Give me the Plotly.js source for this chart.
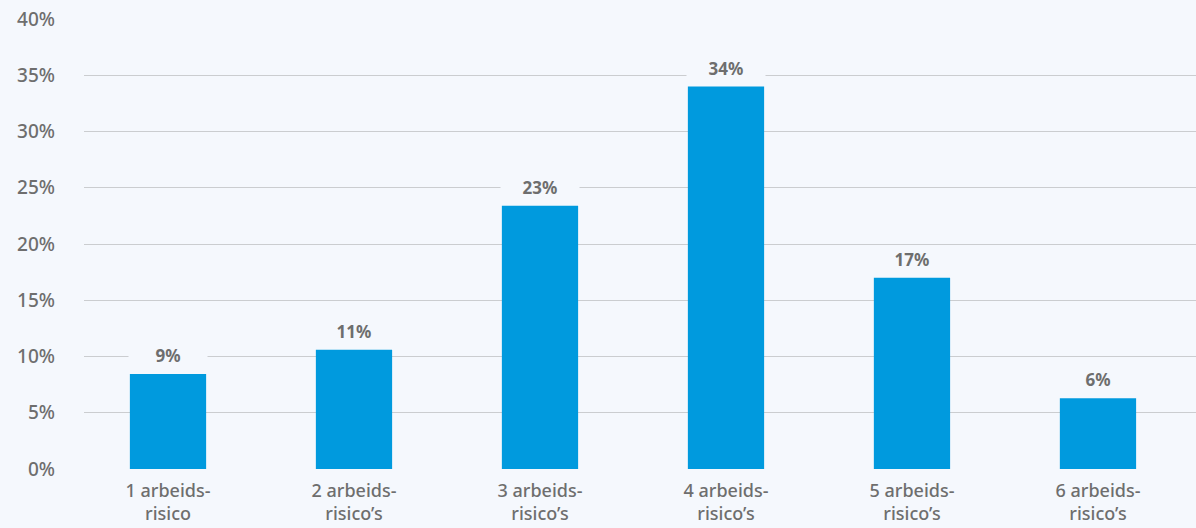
<!DOCTYPE html>
<html>
<head>
<meta charset="utf-8">
<script src="https://cdn.plot.ly/plotly-3.0.1.min.js"></script>
<style>html,body{margin:0;padding:0;background:#f5f8fd;}#chart{width:1196px;height:528px;}</style>
</head>
<body>
<div id="chart"></div>
<script>
const categories = ["1 arbeids-<br>risico", "2 arbeids-<br>risico’s", "3 arbeids-<br>risico’s", "4 arbeids-<br>risico’s", "5 arbeids-<br>risico’s", "6 arbeids-<br>risico’s"];
const values = [8.45, 10.6, 23.4, 34.0, 17.0, 6.3];
const valueLabels = ["9%", "11%", "23%", "34%", "17%", "6%"];
const yTicks = [0, 5, 10, 15, 20, 25, 30, 35, 40];

const textColor = "#6e6e6e";
const bg = "#f5f8fd";

const annotations = categories.map((c, i) => ({
  x: c, y: values[i], xref: "x", yref: "y",
  text: "<b>" + valueLabels[i] + "</b>",
  showarrow: false, yanchor: "bottom", yshift: 5,
  bgcolor: bg, width: 76, height: 24,
  font: {family: "Noto Sans", size: 17, color: textColor}
}));

Plotly.newPlot("chart", [{
  type: "bar", x: categories, y: values,
  marker: {color: "#009ade"}, width: 0.41, hoverinfo: "none"
}], {
  width: 1196, height: 528,
  paper_bgcolor: bg, plot_bgcolor: bg,
  margin: {l: 84, r: 0, t: 19, b: 59},
  showlegend: false,
  font: {family: "Noto Sans", size: 18, color: textColor},
  xaxis: {showgrid: false, showline: false, ticks: "", range: [-0.4516, 5.527],
          ticklabelstandoff: 9, tickfont: {size: 18, color: textColor, weight: 500}},
  yaxis: {range: [0, 40], tickvals: yTicks, ticktext: yTicks.map(v => v + "%"),
          gridcolor: "#cbcdd0", gridwidth: 1, zeroline: false, showline: false,
          ticklabelstandoff: 28, tickfont: {size: 19, color: textColor, weight: 500}},
  annotations: annotations
}, {staticPlot: true});
</script>
</body>
</html>
